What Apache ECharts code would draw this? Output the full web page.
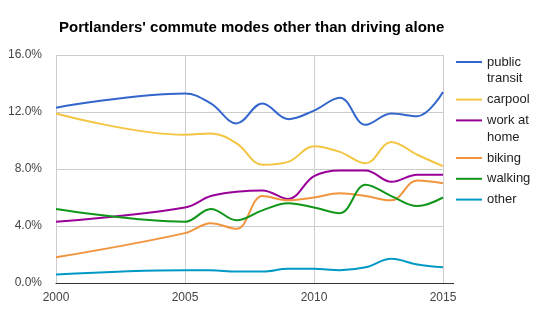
<!DOCTYPE html>
<html>
<head>
<meta charset="utf-8">
<script src="https://cdn.jsdelivr.net/npm/echarts@6/dist/echarts.min.js"></script>
<style>
  html, body { margin: 0; padding: 0; background: #fff; }
  #chart { width: 539px; height: 325px; }
</style>
</head>
<body>
<div id="chart"></div>
<script>
// Share of Portland commuters by mode (percent), excluding driving alone
const years    = [2000, 2005, 2006, 2007, 2008, 2009, 2010, 2011, 2012, 2013, 2014, 2015];
const transit  = [12.3, 13.3, 12.6, 11.2, 12.6, 11.5, 12.1, 13.0, 11.1, 11.9, 11.7, 13.4];
const carpool  = [11.9, 10.4, 10.5, 9.8, 8.3, 8.5, 9.6, 9.2, 8.4, 9.9, 9.0, 8.2];
const workHome = [4.3, 5.3, 6.1, 6.4, 6.5, 5.9, 7.5, 7.9, 7.9, 7.1, 7.6, 7.6];
const biking   = [1.8, 3.5, 4.2, 3.8, 6.1, 5.8, 6.0, 6.3, 6.1, 5.8, 7.2, 7.0];
const walking  = [5.2, 4.3, 5.2, 4.4, 5.1, 5.6, 5.3, 4.9, 6.9, 6.1, 5.4, 6.0];
const other    = [0.6, 0.9, 0.9, 0.8, 0.8, 1.0, 1.0, 0.9, 1.1, 1.7, 1.3, 1.1];

const seriesNames = ['public transit', 'carpool', 'work at home', 'biking', 'walking', 'other'];
const legendLines = [['public', 'transit'], ['carpool'], ['work at', 'home'], ['biking'], ['walking'], ['other']];
const seriesData  = [transit, carpool, workHome, biking, walking, other];
const colors = ['#3366cc', '#f4c542', '#990099', '#f0953e', '#109618', '#0099c6'];

const yTicks = [0, 4, 8, 12, 16];
const xTicks = [2000, 2005, 2010, 2015];

const FONT = 'Arial, "Liberation Sans", sans-serif';

const chart = echarts.init(document.getElementById('chart'), null, { renderer: 'canvas' });

const GRID = { left: 56, right: 96, top: 55, bottom: 42 };

// Legend drawn at the right: short line swatch plus wrapped label
const legendGraphics = [];
let ly = 62;
legendLines.forEach((lines, i) => {
  legendGraphics.push({
    type: 'line',
    shape: { x1: 456, y1: ly, x2: 482, y2: ly },
    style: { stroke: colors[i], lineWidth: 2 },
    silent: true
  });
  lines.forEach((t, j) => {
    legendGraphics.push({
      type: 'text',
      x: 487, y: ly + j * 16.8,
      style: {
        text: t, fill: '#222', font: '13px ' + FONT,
        textVerticalAlign: 'middle', verticalAlign: 'middle'
      },
      silent: true
    });
  });
  ly += lines.length * 16.8 + 4;
});

// Baseline continues a little past the last year
legendGraphics.push({
  type: 'line',
  shape: { x1: 539 - GRID.right, y1: 325 - GRID.bottom + 0.5, x2: 454, y2: 325 - GRID.bottom + 0.5 },
  style: { stroke: '#333', lineWidth: 1 },
  silent: true
});

const option = {
  animation: false,
  backgroundColor: '#fff',
  title: {
    text: "Portlanders' commute modes other than driving alone",
    left: 54, top: 15,
    textStyle: { fontFamily: FONT, fontSize: 15, fontWeight: 'bold', color: '#000' }
  },
  grid: GRID,
  xAxis: {
    type: 'value',
    min: xTicks[0], max: xTicks[xTicks.length - 1], interval: 5,
    axisLine: { show: true, onZero: false, lineStyle: { color: '#333', width: 1 } },
    axisTick: { show: false },
    axisLabel: { color: '#444', fontSize: 12, fontFamily: FONT, margin: 9, formatter: v => String(v) },
    splitLine: { show: true, lineStyle: { color: '#ccc', width: 1 } }
  },
  yAxis: {
    type: 'value',
    min: yTicks[0], max: yTicks[yTicks.length - 1], interval: 4,
    axisLine: { show: false },
    axisTick: { show: false },
    axisLabel: { color: '#444', fontSize: 12, fontFamily: FONT, margin: 14, formatter: v => v.toFixed(1) + '%' },
    splitLine: { show: true, lineStyle: { color: '#ccc', width: 1 } }
  },
  graphic: legendGraphics,
  series: seriesNames.map((name, i) => ({
    name,
    type: 'line',
    smooth: 0.38,
    showSymbol: false,
    symbol: 'none',
    lineStyle: { color: colors[i], width: 2 },
    itemStyle: { color: colors[i] },
    data: years.map((y, k) => [y, seriesData[i][k]])
  }))
};

chart.setOption(option);
</script>
</body>
</html>
